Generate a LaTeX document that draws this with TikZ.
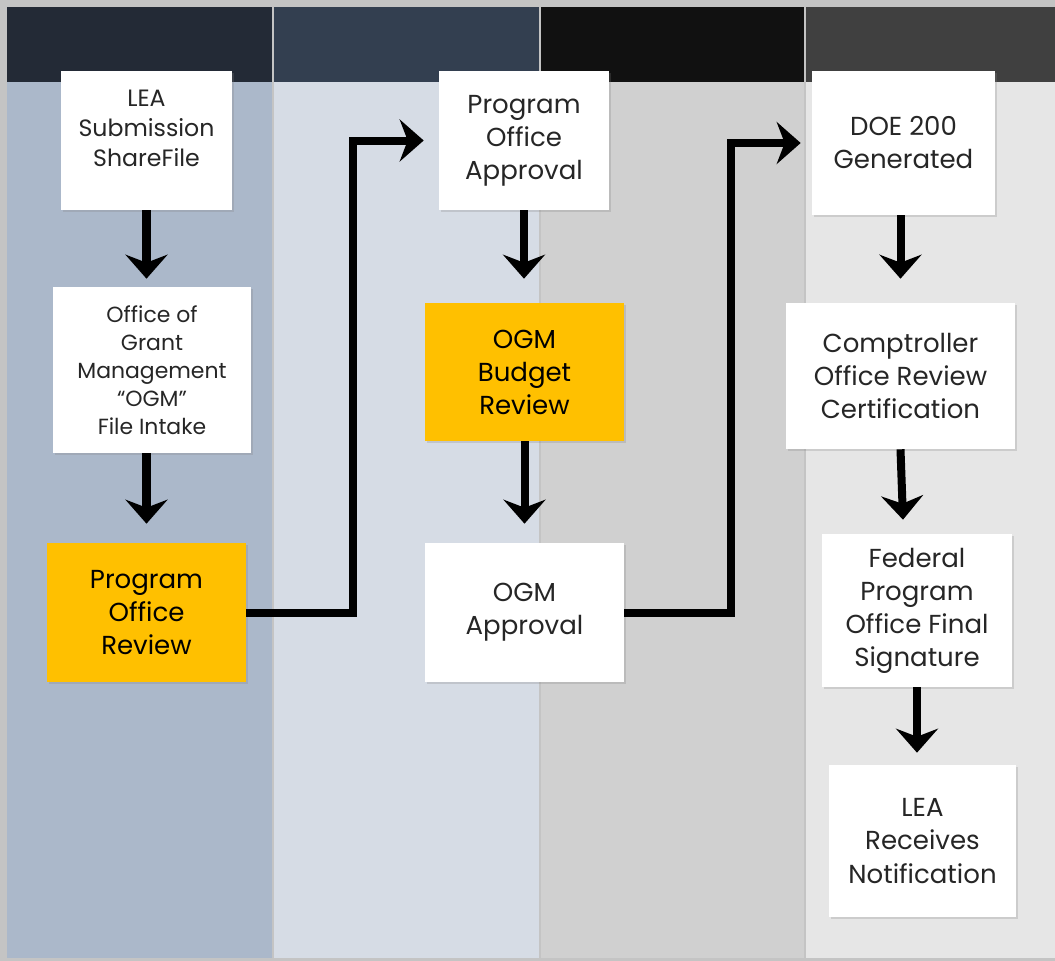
\documentclass[tikz,border=0pt]{standalone}
\usepackage{fontspec}
\setmainfont{Poppins}
\usepackage{tikz}
\usetikzlibrary{arrows.meta,shadows}
\definecolor{frame}{HTML}{C4C4C4}
\definecolor{hdA}{HTML}{232A36}
\definecolor{hdB}{HTML}{333F50}
\definecolor{hdC}{HTML}{111111}
\definecolor{hdD}{HTML}{404040}
\definecolor{bdA}{HTML}{ABB8CA}
\definecolor{bdB}{HTML}{D6DCE5}
\definecolor{bdC}{HTML}{D0D0D0}
\definecolor{bdD}{HTML}{E6E6E6}
\definecolor{ogmyellow}{HTML}{FFC000}
\definecolor{txt}{HTML}{262626}
\tikzstyle{stepbox} = [fill=white, text=txt, align=center, inner sep=0pt,
	drop shadow={opacity=0.25, shadow xshift=0.04cm, shadow yshift=-0.06cm},
	font=\fontsize{18.5}{23.5}\selectfont]
\tikzstyle{hibox} = [stepbox, fill=ogmyellow, text=black]
\tikzstyle{arrow} = [line width=0.2cm, -{Stealth[length=0.6cm, width=1.05cm, inset=0.2cm]}]

\begin{document}
\begin{tikzpicture}[x=0.025cm, y=-0.025cm]
			\useasboundingbox (0,0) rectangle (1055,961);
			\fill[frame] (0,0) rectangle (1055,961);
			
			\foreach \xa/\xb/\hcol/\bcol in {7/273/hdA/bdA, 273/540/hdB/bdB, 540/805/hdC/bdC, 805/1055/hdD/bdD}{
				\fill[\bcol] (\xa,82) rectangle (\xb,958);
				\fill[\hcol] (\xa,7) rectangle (\xb,82);
			}
			\foreach \x in {273,540,805}{
				\draw[frame, line width=0.05cm] (\x,7) -- (\x,958);
			}
			
			\node [stepbox, minimum width=4.275cm, minimum height=3.475cm, font=\fontsize{16.8}{21.3}\selectfont] (lea) at (146.5,140.5) {LEA\\Submission\\ShareFile\\[-4pt]\mbox{}};
			\node [stepbox, minimum width=4.95cm, minimum height=4.15cm, font=\fontsize{15.6}{20}\selectfont] (intake) at (152,370) {Office of\\Grant\\Management\\“OGM”\\File Intake};
			\node [hibox, minimum width=4.975cm, minimum height=3.475cm] (review) at (146.5,612.5) {Program\\Office\\Review};
			
			\node [stepbox, minimum width=4.25cm, minimum height=3.475cm] (approval) at (524,140.5) {Program\\Office\\Approval};
			\node [hibox, minimum width=4.975cm, minimum height=3.45cm] (budget) at (524.5,372) {OGM\\Budget\\Review};
			\node [stepbox, minimum width=4.975cm, minimum height=3.475cm] (ogmok) at (524.5,612.5) {OGM\\Approval};
			
			\node [stepbox, minimum width=4.575cm, minimum height=3.6cm] (doe) at (903.5,143) {DOE 200\\Generated};
			\node [stepbox, minimum width=5.725cm, minimum height=3.65cm] (compt) at (900.5,376) {Comptroller\\Office Review\\Certification};
			\node [stepbox, minimum width=4.75cm, minimum height=3.825cm] (federal) at (917,610.5) {Federal\\Program\\Office Final\\Signature};
			\node [stepbox, minimum width=4.675cm, minimum height=3.8cm] (notify) at (922.5,841) {LEA\\Receives\\Notification};
			
			\draw [arrow, shorten >=0.2cm] (lea.south) -- (lea.south |- intake.north);
			\draw [arrow, shorten >=0.475cm] (lea.south |- intake.south) -- (lea.south |- review.north);
			\draw [arrow, shorten >=0.375cm] (review.east) -- ++(107,0) |- (approval.west);
			
			\draw [arrow, shorten >=0.6cm] (approval.south) -- (approval.south |- budget.north);
			\draw [arrow, shorten >=0.475cm] (budget.south) -- (ogmok.north);
			\draw [arrow, shorten >=0.275cm] (ogmok.east) -- ++(107,0) |- (doe.west);
			
			\draw [arrow, shorten >=0.6cm] (compt.north |- doe.south) -- (compt.north);
			\draw [arrow, shorten >=0.35cm] (compt.south) -- (doe.south |- federal.north);
			\draw [arrow, shorten >=0.3cm] (federal.south) -- (federal.south |- notify.north);
			
\end{tikzpicture}
\end{document}
